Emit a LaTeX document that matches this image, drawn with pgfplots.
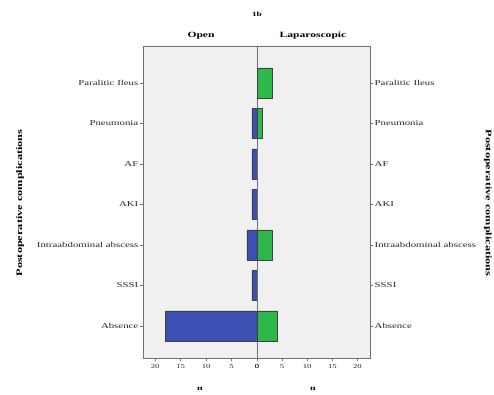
\documentclass[border=0pt]{standalone}
\usepackage{pgfplots}
\pgfplotsset{compat=1.18}
\usepackage{fontspec}
\setmainfont{Liberation Serif}
\newfontfamily\lbl[FakeStretch=1.45]{Liberation Serif}
\definecolor{bgray}{HTML}{F0F0F0}
\definecolor{barblue}{HTML}{3C50B4}
\definecolor{bargreen}{HTML}{2EB84A}
\definecolor{framegray}{HTML}{707070}
\begin{document}
\begin{tikzpicture}
\useasboundingbox (0,0) rectangle (494bp,395bp);
\pgfplotsset{
  pyr/.style={
    scale only axis,
    width=114bp, height=312bp,
    anchor=south west,
    axis background/.style={fill=bgray},
    axis line style={draw=framegray, line width=0.8pt},
    ymin=-0.79, ymax=6.91,
    ytick={0,1,2,3,4,5,6},
    yticklabels={Absence,SSSI,Intraabdominal abscess,AKI,AF,Pneumonia,Paralitic Ileus},
    xtick={0,5,10,15,20},
    xtick pos=lower,
    tick align=outside,
    major tick length=3bp,
    tick style={draw=framegray, line width=0.6pt},
    xbar, bar width=0.74,
    enlargelimits=false,
    /pgf/number format/assume math mode=true,
    yticklabel style={font=\lbl\fontsize{7.5}{8}\selectfont, color=black!85, inner sep=1.5pt},
    xticklabel style={font=\lbl\fontsize{6}{7}\selectfont, color=black!85},
    every axis plot/.append style={draw=black!75, line width=0.5pt},
  }
}
\begin{axis}[pyr, at={(143bp,37bp)}, x dir=reverse, xmin=0, xmax=22.4,
  ytick pos=left]
\addplot[fill=barblue] coordinates {(18,0) (1,1) (2,2) (1,3) (1,4) (1,5)};
\end{axis}
\begin{axis}[pyr, at={(257bp,37bp)}, width=113bp, xmin=0, xmax=22.5,
  ytick pos=right, yticklabel pos=right]
\addplot[fill=bargreen] coordinates {(4,0) (3,2) (1,5) (3,6)};
\end{axis}
\node[font=\lbl\bfseries\fontsize{6.5}{7}\selectfont] at (257bp,381bp) {1b};
\node[font=\lbl\bfseries\fontsize{8}{9}\selectfont] at (201bp,359bp) {Open};
\node[font=\lbl\bfseries\fontsize{8}{9}\selectfont] at (313bp,359bp) {Laparoscopic};
\node[font=\lbl\bfseries\fontsize{7}{8}\selectfont] at (200bp,6bp) {n};
\node[font=\lbl\bfseries\fontsize{7}{8}\selectfont] at (313bp,6bp) {n};
\node[font=\lbl\bfseries\fontsize{8.5}{9}\selectfont, rotate=90] at (20bp,192bp) {Postoperative complications};
\node[font=\lbl\bfseries\fontsize{8.5}{9}\selectfont, rotate=-90, inner sep=0pt] at (488bp,192bp) {Postoperative complications};
\end{tikzpicture}
\end{document}
